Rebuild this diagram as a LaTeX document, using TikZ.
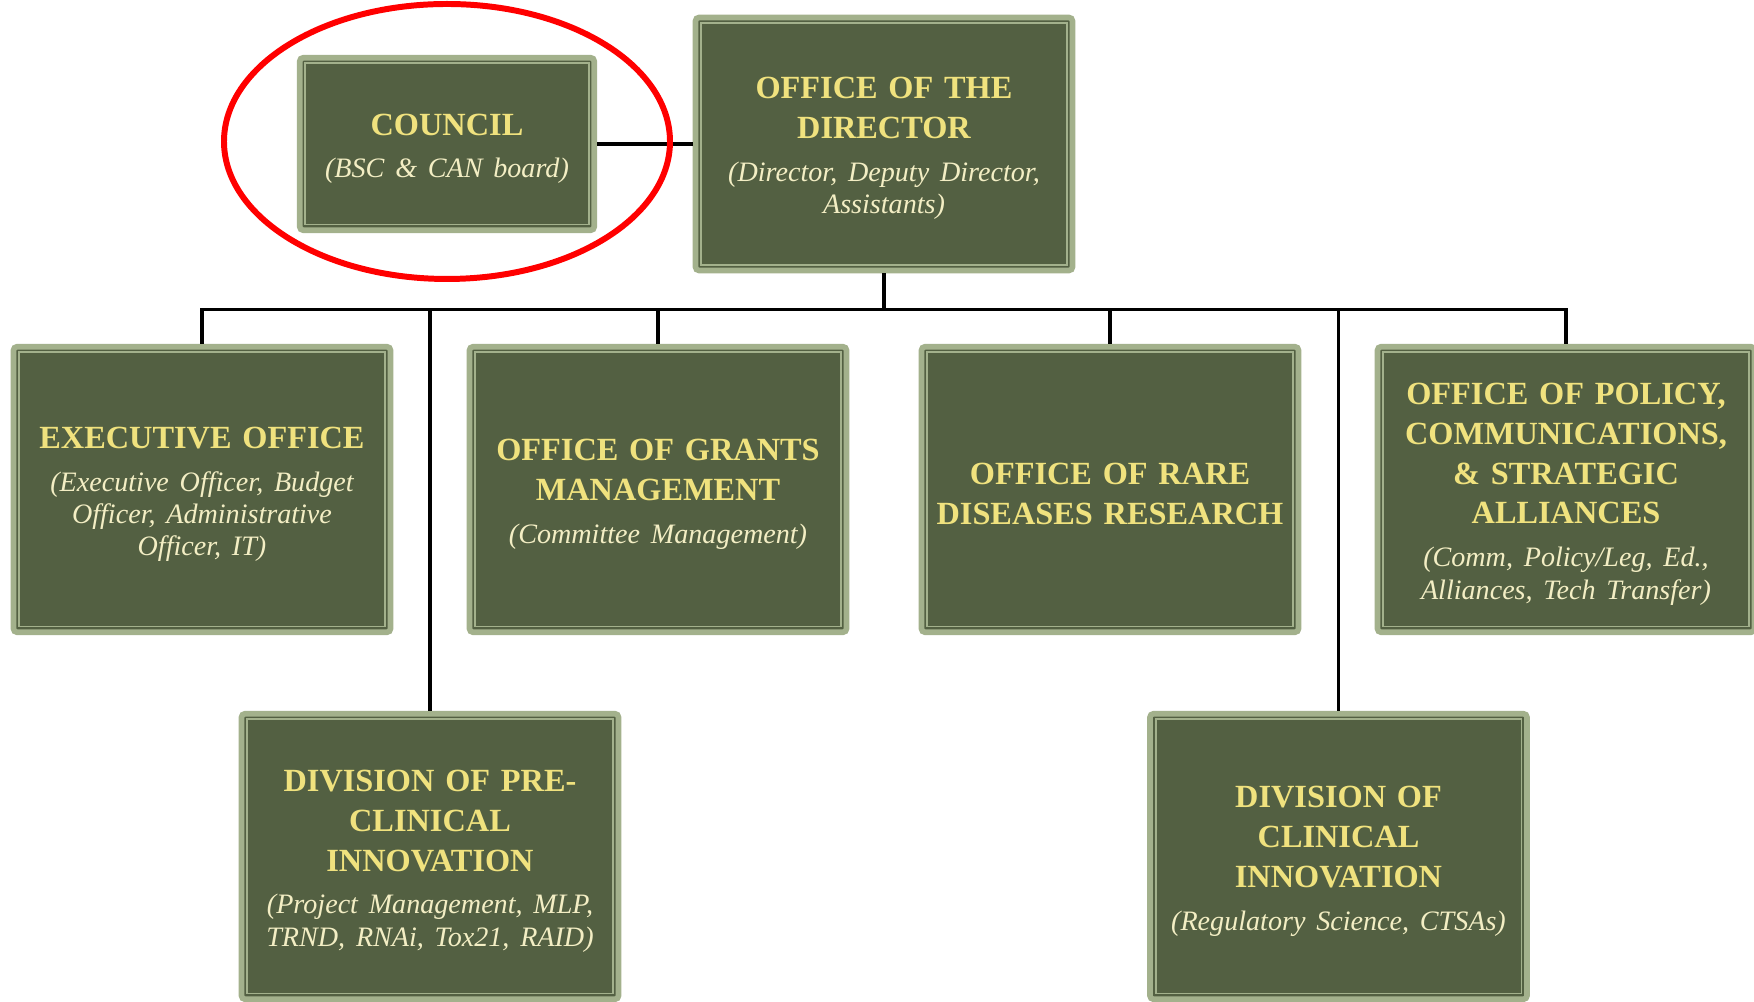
\documentclass[tikz,border=0pt]{standalone}
\usepackage{fontspec}
\setmainfont{Liberation Serif}[WordSpace=0.8]
\usetikzlibrary{shapes.geometric}
\definecolor{unitfill}{HTML}{536042}
\definecolor{unitedge}{HTML}{A3B18C}
\definecolor{titletxt}{HTML}{F0E27E}
\definecolor{notetxt}{HTML}{F3EEC4}
\newcommand{\unitnote}[1]{\par\vspace{3pt}{\fontsize{8}{9.2}\selectfont\mdseries\itshape\color{notetxt}#1\par}}

\begin{document}
\begin{tikzpicture}[
    node distance=3.455cm,
    unit/.style={rectangle, draw=unitedge, fill=unitfill, line width=1.6pt, rounded corners=1pt, text=titletxt, text width=3.6cm, align=center, inner sep=0pt, minimum width=3.77cm, minimum height=2.855cm, font=\fontsize{9.2}{11.3}\selectfont\bfseries,
        execute at begin node={\rule{0pt}{8.8pt}},
        path picture={\draw [unitedge, line width=0.5pt, sharp corners] ([xshift=1.6pt,yshift=-1.6pt]path picture bounding box.north west) rectangle ([xshift=-1.6pt,yshift=1.6pt]path picture bounding box.south east);}},
    chief/.style={unit, minimum height=2.53cm},
    board/.style={unit, text width=2.7cm, minimum width=2.945cm, minimum height=1.725cm},
    link/.style={line width=1pt},
    ring/.style={ellipse, draw=red, line width=1.7pt, minimum width=4.46cm, minimum height=2.75cm}
]
    \useasboundingbox (0,0) rectangle (17.54,10.02);

    % Top level
    \node [chief] (director) at (8.84,8.58) {OFFICE OF THE\\DIRECTOR\unitnote{(Director, Deputy Director,\\Assistants)}};
    \node [board, left of=director, xshift=-0.915cm] (council) {COUNCIL\unitnote{(BSC \& CAN board)}};

    % Offices
    \node [unit, below of=director, xshift=-6.82cm] (exec) {EXECUTIVE OFFICE\unitnote{(Executive Officer, Budget\\Officer, Administrative\\Officer, IT)}};
    \node [unit, below of=director, xshift=-2.26cm] (grants) {OFFICE OF GRANTS\\MANAGEMENT\unitnote{(Committee Management)}};
    \node [unit, below of=director, xshift=2.26cm] (rare) {OFFICE OF RARE\\DISEASES RESEARCH};
    \node [unit, below of=director, xshift=6.82cm] (policy) {OFFICE OF POLICY,\\COMMUNICATIONS,\\\& STRATEGIC\\ALLIANCES\unitnote{(Comm, Policy/Leg, Ed.,\\Alliances, Tech Transfer)}};

    % Divisions
    \node [unit, below of=grants, xshift=-2.28cm, yshift=-0.215cm] (preclin) {DIVISION OF PRE-\\CLINICAL\\INNOVATION\unitnote{(Project Management, MLP,\\TRND, RNAi, Tox21, RAID)}};
    \node [unit, below of=rare, xshift=2.285cm, yshift=-0.215cm] (clinical) {DIVISION OF\\CLINICAL\\INNOVATION\unitnote{(Regulatory Science, CTSAs)}};

    % Connectors
    \coordinate (hub) at ([yshift=-0.36cm]director.south);
    \draw [link] (council) -- (director);
    \draw [link] (director) -- (hub);
    \draw [link] (hub) -| (exec.north);
    \draw [link] (hub) -| (grants.north);
    \draw [link] (hub) -| (rare.north);
    \draw [link] (hub) -| (policy.north);
    \draw [link] (hub) -| (preclin.north);
    \draw [link] (hub) -| (clinical.north);

    % Highlight
    \node [ring, yshift=0.025cm] (mark) at (council) {};
\end{tikzpicture}
\end{document}
